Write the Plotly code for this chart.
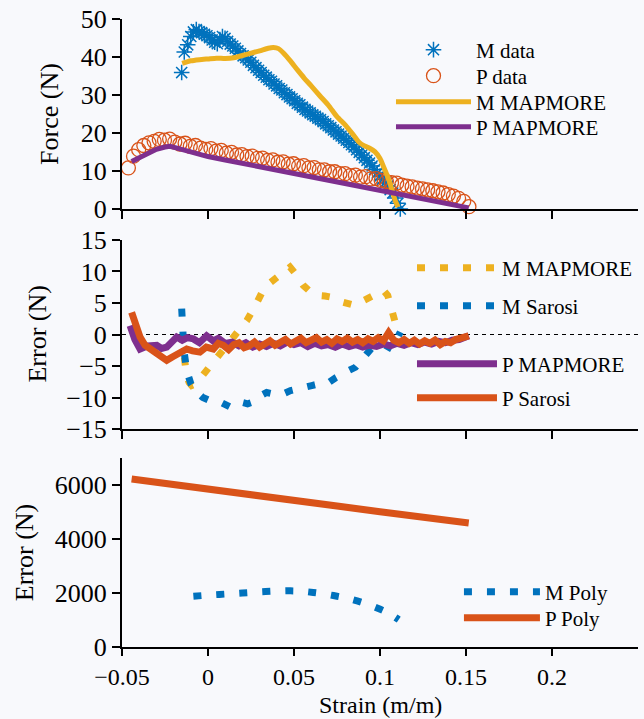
import plotly.graph_objects as go

# ---------------- data: panel 1 (Force) ----------------
m_data_x = [-0.0153, -0.0138, -0.0118, -0.0100, -0.0085, -0.0068, -0.0052, -0.0037, -0.0021, -0.0006,
            0.0009, 0.0024, 0.0039, 0.0054, 0.0069, 0.0084, 0.0099, 0.0114, 0.0129, 0.0144,
            0.0159, 0.0174, 0.0189, 0.0204, 0.0219, 0.0234, 0.0249, 0.0264, 0.0279, 0.0294,
            0.0309, 0.0324, 0.0339, 0.0354, 0.0369, 0.0384, 0.0399, 0.0414, 0.0429, 0.0444,
            0.0459, 0.0474, 0.0489, 0.0504, 0.0519, 0.0534, 0.0549, 0.0564, 0.0579, 0.0594,
            0.0609, 0.0624, 0.0639, 0.0654, 0.0669, 0.0684, 0.0699, 0.0714, 0.0729, 0.0744,
            0.0759, 0.0774, 0.0789, 0.0804, 0.0819, 0.0834, 0.0849, 0.0864, 0.0879, 0.0894,
            0.0909, 0.0924, 0.0939, 0.0954, 0.0969, 0.0984, 0.0999, 0.1014, 0.1029, 0.1044,
            0.1059, 0.1074, 0.1089, 0.1104, 0.1118]
m_data_y = [35.9, 41.3, 43.2, 45.4, 46.6, 47.2, 46.7, 46.4, 46.0, 45.6,
            45.1, 44.5, 43.9, 43.5, 44.6, 45.4, 44.9, 44.1, 43.4, 42.9,
            42.3, 41.6, 40.9, 40.3, 39.8, 39.2, 38.6, 37.8, 37.2, 36.5,
            35.9, 35.2, 34.7, 34.0, 33.6, 32.9, 32.4, 31.7, 31.3, 30.6,
            30.1, 29.5, 29.0, 28.5, 27.8, 27.4, 26.8, 26.2, 25.8, 25.3,
            24.8, 24.4, 23.9, 23.5, 23.0, 22.4, 21.9, 21.4, 20.8, 20.3,
            19.7, 19.2, 18.6, 18.1, 17.5, 16.9, 16.3, 15.6, 14.9, 14.2,
            13.5, 12.8, 12.1, 11.3, 10.4, 9.5, 8.6, 7.8, 6.9, 6.0,
            5.1, 4.2, 2.9, 1.5, 0.0]

p_data_x = [-0.0463, -0.0433, -0.0403, -0.0373, -0.0343, -0.0313, -0.0283, -0.0253, -0.0223, -0.0193,
            -0.0163, -0.0133, -0.0103, -0.0073, -0.0043, -0.0013, 0.0017, 0.0047, 0.0077, 0.0107,
            0.0137, 0.0167, 0.0197, 0.0227, 0.0257, 0.0287, 0.0317, 0.0347, 0.0377, 0.0407,
            0.0437, 0.0467, 0.0497, 0.0527, 0.0557, 0.0587, 0.0617, 0.0647, 0.0677, 0.0707,
            0.0737, 0.0767, 0.0797, 0.0827, 0.0857, 0.0887, 0.0917, 0.0947, 0.0977, 0.1007,
            0.1037, 0.1067, 0.1097, 0.1127, 0.1157, 0.1187, 0.1217, 0.1247, 0.1277, 0.1307,
            0.1337, 0.1367, 0.1397, 0.1427, 0.1457, 0.1487, 0.1517]
p_data_y = [10.8, 13.9, 15.6, 16.7, 17.4, 17.8, 18.3, 18.1, 18.4, 17.6,
            17.1, 17.3, 16.5, 16.7, 16.0, 15.7, 15.9, 15.2, 15.4, 14.7,
            14.9, 14.2, 14.3, 13.8, 13.9, 13.3, 13.4, 12.8, 12.9, 12.3,
            12.4, 11.8, 11.9, 11.3, 11.4, 10.8, 10.9, 10.3, 10.3, 9.8,
            9.8, 9.3, 9.3, 8.8, 8.9, 8.4, 8.5, 7.9, 8.0, 7.5,
            7.2, 6.9, 6.8, 6.3, 6.0, 5.8, 5.5, 5.3, 5.0, 4.8,
            4.5, 4.2, 3.8, 3.4, 2.8, 2.0, 0.6]

m_mapmore_x = [-0.0150, -0.0100, -0.0050, 0.0000, 0.0050, 0.0100, 0.0150, 0.0200, 0.0250, 0.0300,
               0.0350, 0.0380, 0.0410, 0.0440, 0.0480, 0.0520, 0.0560, 0.0600, 0.0650, 0.0700,
               0.0750, 0.0800, 0.0850, 0.0880, 0.0910, 0.0940, 0.0970, 0.1000, 0.1020, 0.1040,
               0.1058, 0.1072, 0.1087, 0.1105]
m_mapmore_y = [38.3, 39.0, 39.3, 39.5, 39.7, 39.6, 39.8, 40.4, 41.0, 41.6,
               42.3, 42.5, 42.2, 41.0, 38.9, 36.6, 34.4, 32.4, 29.8, 27.3,
               24.3, 22.0, 19.2, 17.5, 16.6, 16.0, 15.1, 13.3, 11.2, 9.0,
               6.8, 4.6, 2.4, 0.5]

p_mapmore_x = [-0.0444, -0.0400, -0.0350, -0.0300, -0.0250, -0.0221, -0.0180, -0.0120, -0.0060, 0.0000,
               0.0100, 0.0200, 0.0300, 0.0400, 0.0500, 0.0600, 0.0700, 0.0800, 0.0900, 0.1000,
               0.1100, 0.1200, 0.1300, 0.1400, 0.1516]
p_mapmore_y = [12.5, 13.5, 14.7, 15.7, 16.3, 16.5, 16.0, 15.2, 14.4, 13.8,
               12.9, 12.0, 11.1, 10.2, 9.3, 8.4, 7.5, 6.7, 5.8, 5.0,
               4.1, 3.2, 2.3, 1.4, 0.3]

# ---------------- data: panel 2 (Error) ----------------
err_m_mapmore_x = [-0.0153, -0.0140, -0.0125, -0.0110, -0.0095, -0.0070, -0.0040, -0.0008, 0.0030, 0.0070,
                   0.0110, 0.0147, 0.0190, 0.0225, 0.0270, 0.0320, 0.0360, 0.0400, 0.0440, 0.0477,
                   0.0510, 0.0554, 0.0590, 0.0632, 0.0680, 0.0721, 0.0760, 0.0799, 0.0830, 0.0857,
                   0.0890, 0.0934, 0.0980, 0.1021, 0.1045, 0.1070, 0.1090, 0.1105]
err_m_mapmore_y = [0.0, -3.5, -6.5, -7.6, -8.1, -7.8, -6.8, -5.7, -4.5, -3.1,
                   -1.7, -0.4, 1.0, 2.2, 4.3, 7.0, 8.2, 9.1, 10.0, 10.7,
                   9.6, 7.8, 6.9, 6.2, 6.1, 5.9, 5.3, 4.9, 4.8, 4.6,
                   5.2, 5.9, 6.6, 7.0, 6.2, 3.8, 1.5, 0.3]

err_m_sarosi_x = [-0.0153, -0.0148, -0.0140, -0.0124, -0.0100, -0.0076, -0.0030, 0.0012, 0.0070, 0.0128,
                  0.0186, 0.0230, 0.0263, 0.0300, 0.0341, 0.0390, 0.0438, 0.0480, 0.0516, 0.0560,
                  0.0603, 0.0650, 0.0702, 0.0740, 0.0779, 0.0820, 0.0857, 0.0890, 0.0915, 0.0950,
                  0.0992, 0.1030, 0.1070, 0.1095, 0.1118]
err_m_sarosi_y = [4.1, 0.5, -2.5, -5.7, -7.8, -8.9, -10.0, -10.5, -10.7, -11.5,
                  -10.7, -11.0, -10.7, -9.8, -9.2, -9.5, -9.4, -8.9, -8.6, -8.4,
                  -8.1, -7.8, -7.6, -6.9, -6.2, -5.7, -5.2, -4.2, -3.1, -2.2,
                  -1.5, -1.7, -2.3, -0.8, 0.4]

err_p_mapmore_x = [-0.0453, -0.0425, -0.0395, -0.0350, -0.0298, -0.0270, -0.0240, -0.0210, -0.0182, -0.0150,
                   -0.0120, -0.0085, -0.0050, -0.0008, 0.0030, 0.0060, 0.0100, 0.0140, 0.0180, 0.0220,
                   0.0260, 0.0300, 0.0340, 0.0380, 0.0420, 0.0460, 0.0500, 0.0540, 0.0580, 0.0620,
                   0.0660, 0.0700, 0.0740, 0.0780, 0.0820, 0.0860, 0.0900, 0.0940, 0.0980, 0.1020,
                   0.1060, 0.1100, 0.1140, 0.1180, 0.1220, 0.1260, 0.1300, 0.1340, 0.1380, 0.1420,
                   0.1460, 0.1516]
err_p_mapmore_y = [1.4, -0.8, -2.3, -1.8, -1.7, -2.2, -2.0, -1.2, -0.4, -0.9,
                   -0.5, -0.7, -1.3, -0.2, -1.0, -0.6, -1.4, -1.2, -1.8, -1.3,
                   -2.0, -1.5, -1.9, -1.4, -1.8, -1.2, -1.6, -1.3, -1.9, -1.4,
                   -1.8, -1.6, -2.0, -1.5, -1.9, -1.6, -2.0, -1.7, -1.9, -1.5,
                   -1.8, -1.4, -1.7, -1.3, -1.6, -1.2, -1.5, -1.1, -1.3, -0.9,
                   -0.8, -0.2]

err_p_sarosi_x = [-0.0444, -0.0420, -0.0395, -0.0366, -0.0318, -0.0280, -0.0240, -0.0210, -0.0182, -0.0150,
                  -0.0124, -0.0090, -0.0047, -0.0010, 0.0031, 0.0060, 0.0089, 0.0120, 0.0150, 0.0180,
                  0.0210, 0.0240, 0.0270, 0.0300, 0.0330, 0.0360, 0.0390, 0.0420, 0.0450, 0.0480,
                  0.0510, 0.0540, 0.0570, 0.0600, 0.0630, 0.0660, 0.0690, 0.0720, 0.0750, 0.0780,
                  0.0810, 0.0840, 0.0870, 0.0900, 0.0930, 0.0960, 0.0990, 0.1020, 0.1050, 0.1080,
                  0.1110, 0.1140, 0.1170, 0.1200, 0.1230, 0.1260, 0.1290, 0.1320, 0.1350, 0.1380,
                  0.1410, 0.1440, 0.1480, 0.1516]
err_p_sarosi_y = [3.5, 1.2, -0.4, -1.7, -2.5, -3.4, -4.1, -3.6, -3.1, -2.6,
                  -2.3, -2.6, -2.8, -2.0, -2.3, -1.4, -1.7, -2.4, -1.6, -1.3,
                  -2.1, -1.8, -1.2, -2.0, -1.6, -1.0, -1.7, -1.2, -0.8, -1.5,
                  -1.1, -0.6, -1.3, -0.9, -0.5, -1.2, -0.8, -1.4, -0.7, -1.1,
                  -0.6, -1.2, -0.8, -1.3, -0.7, -1.1, -0.5, -1.0, 0.3, -0.9,
                  -1.3, -0.8, -1.4, -0.9, -1.5, -1.0, -1.4, -0.9, -1.6, -1.1,
                  -1.3, -0.8, -0.6, -0.2]

# ---------------- data: panel 3 (Poly error) ----------------
m_poly_x = [-0.0085, 0.0000, 0.0100, 0.0200, 0.0300, 0.0400, 0.0480, 0.0550, 0.0612, 0.0680,
            0.0750, 0.0820, 0.0900, 0.0983, 0.1050, 0.1109]
m_poly_y = [1880, 1920, 1960, 2000, 2040, 2070, 2080, 2060, 2020, 1960,
            1880, 1790, 1640, 1444, 1250, 1011]

p_poly_x = [-0.0444, -0.0200, 0.0000, 0.0250, 0.0500, 0.0750, 0.1000, 0.1250, 0.1516]
p_poly_y = [6222, 6030, 5860, 5650, 5440, 5220, 5010, 4800, 4593]

# tick settings
x_range = [-0.05, 0.25]
x_ticks = [-0.05, 0, 0.05, 0.1, 0.15, 0.2]
x_ticktext = ["\u22120.05", "0", "0.05", "0.1", "0.15", "0.2"]

BLUE = "#0072BD"
ORANGE = "#D95319"
YELLOW = "#EDB120"
PURPLE = "#7E2F8E"
FONT = "Liberation Serif"
BG = "#f8f9fc"
DASH = "8px,15px"

fig = go.Figure()

# panel 1
fig.add_trace(go.Scatter(x=m_data_x, y=m_data_y, mode="markers", name="M data",
                         marker=dict(symbol="asterisk-open", size=13, color=BLUE,
                                     line=dict(color=BLUE, width=1.5)),
                         cliponaxis=False, xaxis="x", yaxis="y", legend="legend", showlegend=True))
fig.add_trace(go.Scatter(x=p_data_x, y=p_data_y, mode="markers", name="P data",
                         marker=dict(symbol="circle-open", size=14, color=ORANGE,
                                     line=dict(color=ORANGE, width=1.3)),
                         cliponaxis=False, xaxis="x", yaxis="y", legend="legend2"))
fig.add_trace(go.Scatter(x=m_mapmore_x, y=m_mapmore_y, mode="lines", name="M MAPMORE",
                         line=dict(color=YELLOW, width=5, shape="spline", smoothing=0.6),
                         xaxis="x", yaxis="y", legend="legend3"))
fig.add_trace(go.Scatter(x=p_mapmore_x, y=p_mapmore_y, mode="lines", name="P MAPMORE",
                         line=dict(color=PURPLE, width=5),
                         xaxis="x", yaxis="y", legend="legend4"))

# panel 2
fig.add_trace(go.Scatter(x=err_m_mapmore_x, y=err_m_mapmore_y, mode="lines", name="M MAPMORE",
                         line=dict(color=YELLOW, width=7, dash=DASH),
                         xaxis="x2", yaxis="y2", legend="legend5"))
fig.add_trace(go.Scatter(x=err_m_sarosi_x, y=err_m_sarosi_y, mode="lines", name="M Sarosi",
                         line=dict(color=BLUE, width=7, dash=DASH),
                         xaxis="x2", yaxis="y2", legend="legend6"))
fig.add_trace(go.Scatter(x=err_p_mapmore_x, y=err_p_mapmore_y, mode="lines", name="P MAPMORE",
                         line=dict(color=PURPLE, width=7),
                         xaxis="x2", yaxis="y2", legend="legend7"))
fig.add_trace(go.Scatter(x=err_p_sarosi_x, y=err_p_sarosi_y, mode="lines", name="P Sarosi",
                         line=dict(color=ORANGE, width=7),
                         xaxis="x2", yaxis="y2", legend="legend8"))

# panel 3
fig.add_trace(go.Scatter(x=m_poly_x, y=m_poly_y, mode="lines", name="M Poly",
                         line=dict(color=BLUE, width=7, dash=DASH, shape="spline"),
                         xaxis="x3", yaxis="y3", legend="legend9"))
fig.add_trace(go.Scatter(x=p_poly_x, y=p_poly_y, mode="lines", name="P Poly",
                         line=dict(color=ORANGE, width=7),
                         xaxis="x3", yaxis="y3", legend="legend10"))

# zero reference line in panel 2
fig.add_shape(type="line", xref="x2 domain", yref="y2", x0=0, x1=1, y0=0, y1=0,
              line=dict(color="black", width=1.2, dash="4px,4px"), layer="below")

# axis titles placed as annotations for exact position
fig.add_annotation(text="Error (N)", xref="paper", yref="paper", x=-0.1647, y=0.4976,
                   xanchor="center", yanchor="middle", textangle=-90, showarrow=False,
                   font=dict(family=FONT, size=26, color="black"))
fig.add_annotation(text="Strain (m/m)", xref="paper", yref="paper", x=0.5, y=-0.1147,
                   xanchor="center", yanchor="bottom", showarrow=False, borderpad=0,
                   font=dict(family=FONT, size=24, color="black"))

axis_common = dict(showline=True, linecolor="black", linewidth=2, ticks="outside",
                   ticklen=8, tickwidth=2, tickcolor="black", showgrid=False, zeroline=False,
                   tickfont=dict(family=FONT, size=26, color="black"), mirror=False,
                   automargin=False)

xcommon = dict(axis_common, range=x_range, tickvals=x_ticks, ticktext=x_ticktext)


def leg(x, y, w):
    return dict(bgcolor="rgba(0,0,0,0)", borderwidth=0, xanchor="left", yanchor="middle",
                x=x, y=y, itemwidth=w, font=dict(family=FONT, size=21, color="black"))


fig.update_layout(
    width=644, height=719,
    showlegend=True,
    margin=dict(l=122, r=6, t=19, b=72),
    paper_bgcolor=BG, plot_bgcolor=BG,
    font=dict(family=FONT, color="black"),
    xaxis=dict(xcommon, anchor="y", showticklabels=False),
    xaxis2=dict(xcommon, anchor="y2", showticklabels=False),
    xaxis3=dict(xcommon, anchor="y3", showticklabels=True, ticklen=7,
                tickfont=dict(family=FONT, size=24, color="black")),
    yaxis=dict(axis_common, domain=[0.6975, 1.0], range=[0, 50], dtick=10, anchor="x",
               title=dict(text="Force (N)", font=dict(family=FONT, size=26), standoff=15)),
    yaxis2=dict(axis_common, domain=[0.3471, 0.6481], range=[-15, 15], dtick=5, anchor="x2"),
    yaxis3=dict(axis_common, domain=[0.0, 0.3010], range=[0, 7000],
                tickvals=[0, 2000, 4000, 6000], ticktext=["0", "2000", "4000", "6000"], anchor="x3",
                title=dict(text="Error (N)", font=dict(family=FONT, size=26), standoff=14)),
    legend=leg(0.5213, 0.9506, 75),
    legend2=leg(0.5213, 0.9092, 75),
    legend3=leg(0.5213, 0.8678, 75),
    legend4=leg(0.5213, 0.8280, 75),
    legend5=leg(0.562, 0.6035, 80),
    legend6=leg(0.562, 0.5430, 80),
    legend7=leg(0.562, 0.4506, 80),
    legend8=leg(0.562, 0.3965, 80),
    legend9=leg(0.653, 0.0876, 76),
    legend10=leg(0.653, 0.0462, 76),
)

fig.write_html("out.html", config={"displayModeBar": False},
               post_script="document.body.style.margin='0';document.body.style.overflow='hidden';")
